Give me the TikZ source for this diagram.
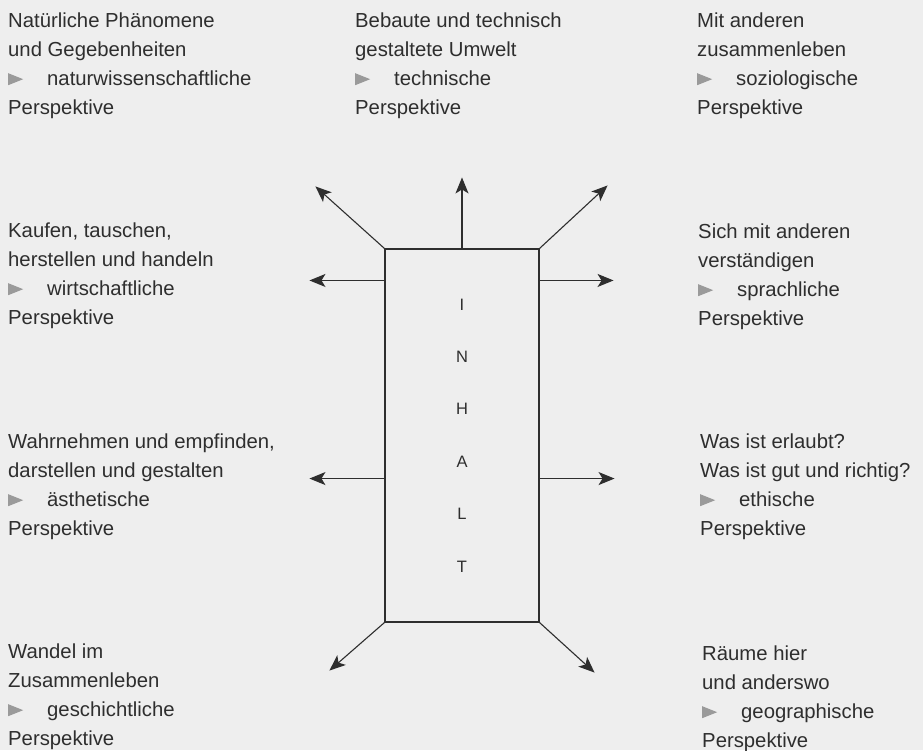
\documentclass[tikz,border=0pt]{standalone}
\usepackage{fontspec}
\setmainfont{Liberation Sans}
\usepackage{xcolor}
\usepackage{tikz}
\usetikzlibrary{arrows.meta, positioning}

\definecolor{paper}{HTML}{EEEEEE}
\definecolor{ink}{HTML}{2E2E2E}
\definecolor{markgray}{HTML}{9A9A9A}

\newcommand{\perspmark}{\tikz[baseline=0pt]\fill[markgray] (0pt,0pt) -- (0pt,12pt) -- (15pt,6pt) -- cycle;\hspace{24pt}}

\begin{document}
\begin{tikzpicture}[x=1pt, y=-1pt,
  txt/.style={anchor=base west, align=left, inner sep=0pt, text=ink,
              font=\fontsize{20.3}{28.8}\selectfont},
  box/.style={draw=ink, line width=1.1pt, inner sep=0pt, align=center, text=ink,
              minimum width=154pt, minimum height=373pt,
              font=\fontsize{16.5}{52.4}\selectfont},
  arr/.style={-{Stealth[length=16pt, width=13pt, inset=4pt]}, line width=1.1pt, draw=ink}]

  \fill[paper] (0,0) rectangle (923,750);
  \useasboundingbox (0,0) rectangle (923,750);

  % centre box
  \node[box] (inhalt) at (462,435.5) {I\\N\\H\\A\\L\\T};

  % arrow ends
  \coordinate[above=71pt of inhalt.north] (up);
  \coordinate[above left=62pt and 69pt of inhalt.north west] (upl);
  \coordinate[above right=63pt and 68pt of inhalt.north east] (upr);
  \coordinate[below=32pt of inhalt.north west] (wo);
  \coordinate[below=32pt of inhalt.north east] (eo);
  \coordinate[above=144pt of inhalt.south west] (wu);
  \coordinate[above=144pt of inhalt.south east] (eu);
  \coordinate[left=75pt of wo] (wotip);
  \coordinate[right=74pt of eo] (eotip);
  \coordinate[left=75pt of wu] (wutip);
  \coordinate[right=75pt of eu] (eutip);
  \coordinate[below left=48pt and 55pt of inhalt.south west] (dnl);
  \coordinate[below right=50pt and 55pt of inhalt.south east] (dnr);

  \draw[arr] (inhalt.north) -- (up);
  \draw[arr] (inhalt.north west) -- (upl);
  \draw[arr] (inhalt.north east) -- (upr);
  \draw[arr] (wo) -- (wotip);
  \draw[arr] (eo) -- (eotip);
  \draw[arr] (wu) -- (wutip);
  \draw[arr] (eu) -- (eutip);
  \draw[arr] (inhalt.south west) -- (dnl);
  \draw[arr] (inhalt.south east) -- (dnr);

  % perspectives (placed at the baseline of the last line)
  \node[txt] (nat) at (8,114) {Natürliche Phänomene\\und Gegebenheiten\\\perspmark naturwissenschaftliche\\Perspektive};
  \node[txt] (tech) at (355,114) {Bebaute und technisch\\gestaltete Umwelt\\\perspmark technische\\Perspektive};
  \node[txt] (soz) at (697,114) {Mit anderen\\zusammenleben\\\perspmark soziologische\\Perspektive};
  \node[txt] (wirt) at (8,324) {Kaufen, tauschen,\\herstellen und handeln\\\perspmark wirtschaftliche\\Perspektive};
  \node[txt] (sprach) at (698,325) {Sich mit anderen\\verständigen\\\perspmark sprachliche\\Perspektive};
  \node[txt] (aesth) at (8,535) {Wahrnehmen und empfinden,\\darstellen und gestalten\\\perspmark ästhetische\\Perspektive};
  \node[txt] (eth) at (700,535) {Was ist erlaubt?\\Was ist gut und richtig?\\\perspmark ethische\\Perspektive};
  \node[txt] (gesch) at (8,745) {Wandel im\\Zusammenleben\\\perspmark geschichtliche\\Perspektive};
  \node[txt] (geo) at (702,747) {Räume hier\\und anderswo\\\perspmark geographische\\Perspektive};
\end{tikzpicture}
\end{document}
